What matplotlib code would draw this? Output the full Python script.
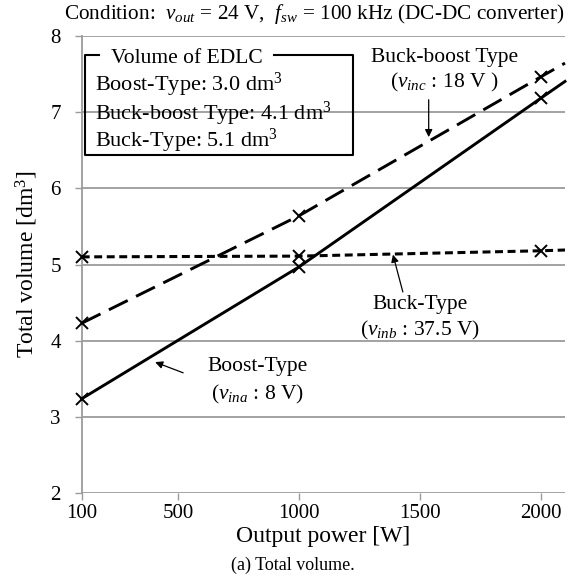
import matplotlib
matplotlib.use('Agg')
import matplotlib.pyplot as plt
from matplotlib.lines import Line2D

plt.rcParams['font.family'] = ['Liberation Serif', 'DejaVu Serif']
plt.rcParams['font.size'] = 15
plt.rcParams['mathtext.fontset'] = 'custom'
plt.rcParams['mathtext.rm'] = 'Liberation Serif'
plt.rcParams['mathtext.it'] = 'Liberation Serif:italic'

# output power [W]; last point is where the lines leave the plot
power = [100, 1000, 2000, 2100]
boost = [3.24, 4.97, 7.18, 7.40]
buck_boost = [4.23, 5.64, 7.46, 7.64]
buck = [5.10, 5.11, 5.18, 5.19]

x_ticks = [100, 500, 1000, 1500, 2000]
y_ticks = [2, 3, 4, 5, 6, 7, 8]

edlc_lines = ['Boost-Type: 3.0 dm$^3$',
              'Buck-boost Type: 4.1 dm$^3$',
              'Buck-Type: 5.1 dm$^3$']

fig = plt.figure(figsize=(5.74, 5.75), dpi=100)
ax = fig.add_axes([0.1423, 0.142, 0.842, 0.796])

grid_col = '#9b9b9b'
for y in y_ticks:
    ax.axhline(y, color=grid_col, lw=1.3, zorder=1)

mk = dict(marker='x', markersize=9, markeredgewidth=1.4, markevery=[0, 1, 2],
          color='black', zorder=3, clip_on=False)
ax.plot(power, boost, lw=2.1, linestyle='-', **mk)
ax.plot(power, buck_boost, lw=2.1, linestyle=(0, (7.2, 3.2)), **mk)
ax.plot(power, buck, lw=2.2, linestyle=(0, (2.6, 1.5)), **mk)

ax.set_xlim(100, 2100)
ax.set_ylim(2, 8)
ax.set_xticks(x_ticks)
ax.set_yticks(y_ticks)
for s in ['top', 'right', 'bottom']:
    ax.spines[s].set_visible(False)
ax.spines['left'].set_color(grid_col)
ax.spines['left'].set_linewidth(1.3)
ax.tick_params(axis='x', direction='out', length=5, width=1, color=grid_col, pad=3)
ax.tick_params(axis='y', direction='out', length=5, width=1, color=grid_col, pad=10)

ax.text(-0.113, 0.5, 'Total volume [dm$^3$]', transform=ax.transAxes,
        rotation=90, ha='center', va='center', fontsize=17)
ax.text(0.5, -0.095, 'Output power [W]', transform=ax.transAxes,
        ha='center', va='center', fontsize=17)
fig.text(0.51, 1 - 565 / 575, '(a) Total volume.', ha='center', va='center', fontsize=13)
fig.text(0.984, 1 - 14 / 575,
         'Condition:  $v_{out}$ = 24 V,  $f_{sw}$ = 100 kHz (DC-DC converter)',
         ha='right', va='center', fontsize=15.3)

# EDLC volume box
box_kw = dict(color='black', lw=1.5, transform=ax.transAxes, clip_on=False, zorder=4)
ax.add_line(Line2D([0.036, 0.0068, 0.0068, 0.5624, 0.5624, 0.397],
                   [0.9578, 0.9578, 0.740, 0.740, 0.9578, 0.9578], **box_kw))
ax.text(0.217, 0.9403, 'Volume of EDLC', transform=ax.transAxes,
        ha='center', va='baseline', fontsize=15.5)
for txt, yy in zip(edlc_lines, [0.879, 0.8155, 0.7575]):
    ax.text(0.0275, yy, txt, transform=ax.transAxes, ha='left', va='baseline', fontsize=16)

# annotations
arrow = dict(arrowstyle='-|>', color='black', lw=0.9, mutation_scale=11, shrinkA=0, shrinkB=0)
ax.text(1602, 7.71, 'Buck-boost Type', ha='center', va='center', fontsize=15.5)
ax.text(1602, 7.38, '($v_{inc}$ : 18 V )', ha='center', va='center', fontsize=15.5)
ax.annotate('', xy=(1536, 6.67), xytext=(1536, 7.16), arrowprops=arrow)

ax.text(1499, 4.47, 'Buck-Type', ha='center', va='center', fontsize=15.5)
ax.text(1499, 4.13, '($v_{inb}$ : 37.5 V)', ha='center', va='center', fontsize=15.5)
ax.annotate('', xy=(1388, 5.13), xytext=(1429, 4.64), arrowprops=arrow)

ax.text(829, 3.66, 'Boost-Type', ha='center', va='center', fontsize=15.5)
ax.text(829, 3.30, '($v_{ina}$ : 8 V)', ha='center', va='center', fontsize=15.5)
ax.annotate('', xy=(404, 3.72), xytext=(520, 3.58), arrowprops=arrow)

fig.savefig('out.png', dpi=100)
